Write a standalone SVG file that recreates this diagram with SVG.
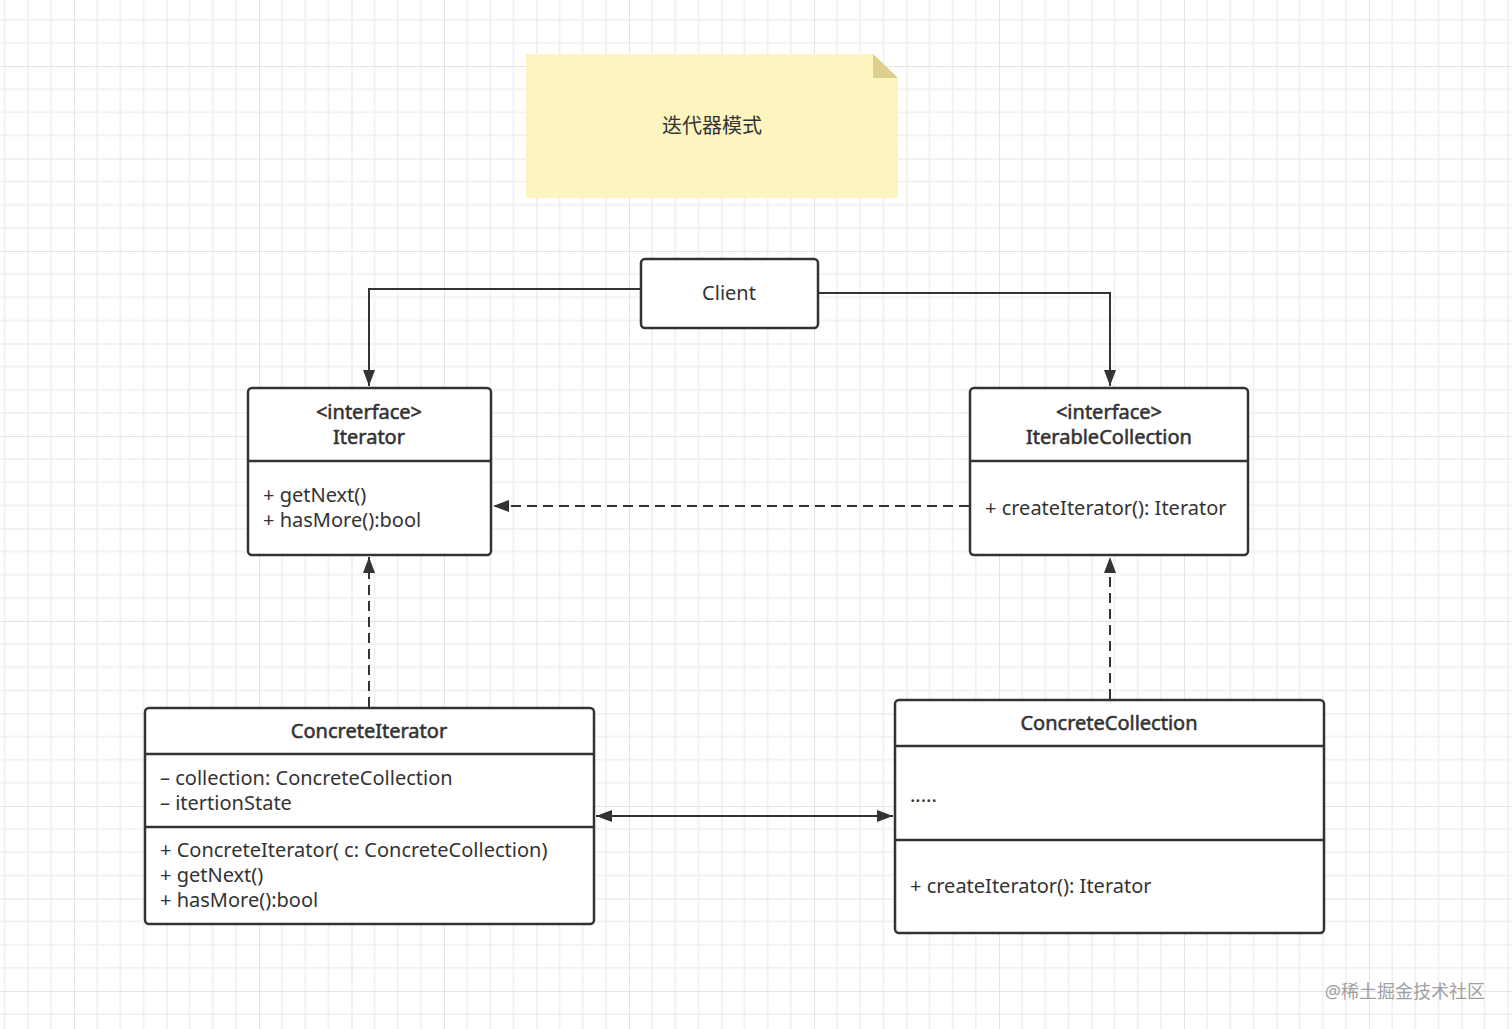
<svg xmlns="http://www.w3.org/2000/svg" width="1512" height="1029" viewBox="0 0 1512 1029">
<defs>
<pattern id="grid" x="74" y="66" width="92.5" height="92.5" patternUnits="userSpaceOnUse">
<path d="M23.125 0V92.5M46.25 0V92.5M69.375 0V92.5M0 23.125H92.5M0 46.25H92.5M0 69.375H92.5" stroke="#efefef" stroke-width="1.6" fill="none"/>
<path d="M0 0V92.5M0 0H92.5" stroke="#e4e4e4" stroke-width="2" fill="none"/>
</pattern>
<marker id="arr" viewBox="0 0 16 12" refX="16" refY="6" markerWidth="16" markerHeight="12" markerUnits="userSpaceOnUse" orient="auto-start-reverse">
<path d="M0 0L16 6L0 12Z" fill="#333"/>
</marker>
<style>
.box{fill:#fff;stroke:#333;stroke-width:2.5}
.div{stroke:#333;stroke-width:2.5}
.t{font-family:"Noto Sans","Noto Sans CJK SC",sans-serif;font-size:20px;fill:#333}
.c{text-anchor:middle}
.h{stroke:#333;stroke-width:0.55}
.ln{fill:none;stroke:#333;stroke-width:2}
.dash{stroke-dasharray:10 6}
</style>
</defs>
<rect width="1512" height="1029" fill="#fff"/>
<rect width="1512" height="1029" fill="url(#grid)"/>

<g id="note">
<path d="M526 54H873L898 78V198H526Z" fill="#fdf4bf"/>
<path d="M873 54L898 78H873Z" fill="#ddd08e"/>
<text class="t c" x="712" y="133">迭代器模式</text>
</g>

<g id="connectors">
<path class="ln" d="M641 289H369V386" marker-end="url(#arr)"/>
<path class="ln" d="M818 293H1110V386" marker-end="url(#arr)"/>
<path class="ln dash" d="M969 506H493" marker-end="url(#arr)"/>
<path class="ln dash" d="M369 707V557" marker-end="url(#arr)"/>
<path class="ln dash" d="M1110 699V557" marker-end="url(#arr)"/>
<path class="ln" d="M596 816H893" marker-start="url(#arr)" marker-end="url(#arr)"/>
</g>

<g id="client">
<rect class="box" x="641" y="259" width="177" height="69" rx="4"/>
<text class="t c" x="729" y="300">Client</text>
</g>

<g id="iterator">
<rect class="box" x="248" y="388" width="243" height="167" rx="4"/>
<line class="div" x1="248" y1="461" x2="491" y2="461"/>
<text class="t c h" x="369" y="419">&lt;interface&gt;</text>
<text class="t c h" x="369" y="444">Iterator</text>
<text class="t" x="263" y="502">+ getNext()</text>
<text class="t" x="263" y="527">+ hasMore():bool</text>
</g>

<g id="iterableCollection">
<rect class="box" x="970" y="388" width="278" height="167" rx="4"/>
<line class="div" x1="970" y1="461" x2="1248" y2="461"/>
<text class="t c h" x="1109" y="419">&lt;interface&gt;</text>
<text class="t c h" x="1109" y="444">IterableCollection</text>
<text class="t" x="985" y="515">+ createIterator(): Iterator</text>
</g>

<g id="concreteIterator">
<rect class="box" x="145" y="708" width="449" height="216" rx="4"/>
<line class="div" x1="145" y1="754" x2="594" y2="754"/>
<line class="div" x1="145" y1="827" x2="594" y2="827"/>
<text class="t c h" x="369" y="738">ConcreteIterator</text>
<text class="t" x="160" y="785">– collection: ConcreteCollection</text>
<text class="t" x="160" y="810">– itertionState</text>
<text class="t" x="160" y="857">+ ConcreteIterator( c: ConcreteCollection)</text>
<text class="t" x="160" y="882">+ getNext()</text>
<text class="t" x="160" y="907">+ hasMore():bool</text>
</g>

<g id="concreteCollection">
<rect class="box" x="895" y="700" width="429" height="233" rx="4"/>
<line class="div" x1="895" y1="746" x2="1324" y2="746"/>
<line class="div" x1="895" y1="840" x2="1324" y2="840"/>
<text class="t c h" x="1109" y="730">ConcreteCollection</text>
<text class="t" x="910" y="802">.....</text>
<text class="t" x="910" y="893">+ createIterator(): Iterator</text>
</g>

<text x="1485" y="998" font-family="Noto Sans, Noto Sans CJK SC, sans-serif" font-size="18" fill="#a0a0a0" text-anchor="end">@稀土掘金技术社区</text>
</svg>
